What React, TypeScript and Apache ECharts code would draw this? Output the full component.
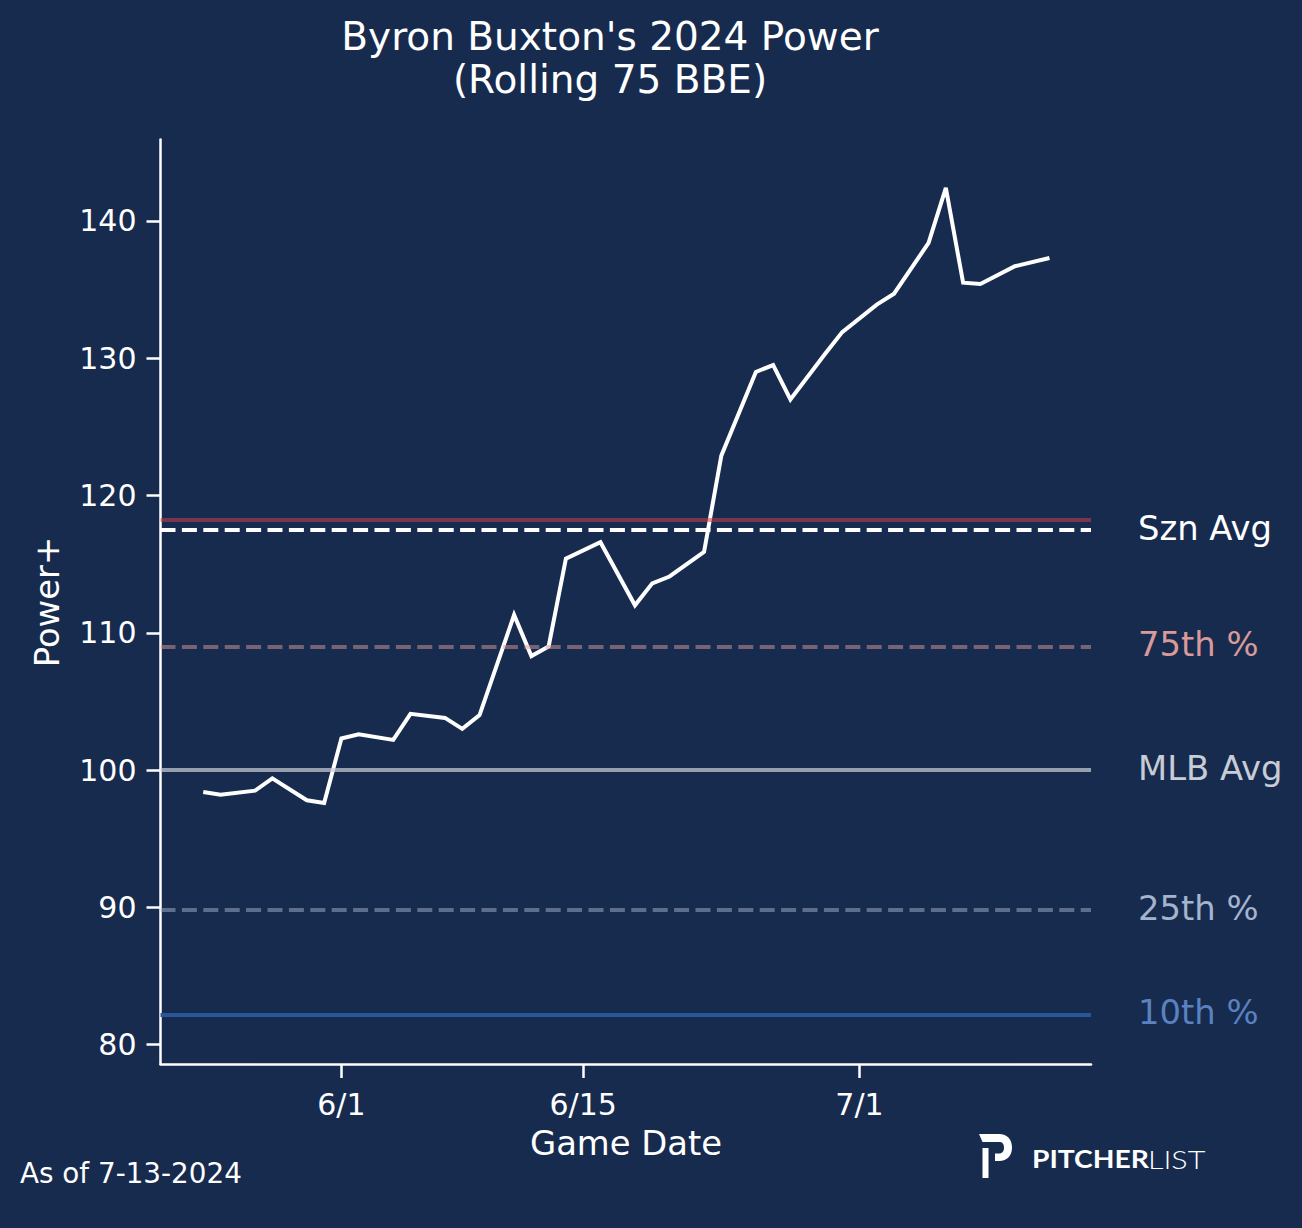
import React, { useEffect, useRef } from "react";
import * as echarts from "echarts";

// ---------- data ----------
const gameDates = [
  "2024-05-24", "2024-05-25", "2024-05-27", "2024-05-28", "2024-05-30", "2024-05-31",
  "2024-06-01", "2024-06-02", "2024-06-04", "2024-06-05", "2024-06-07", "2024-06-08",
  "2024-06-09", "2024-06-11", "2024-06-12", "2024-06-13", "2024-06-14", "2024-06-16",
  "2024-06-18", "2024-06-19", "2024-06-20", "2024-06-22", "2024-06-23", "2024-06-25",
  "2024-06-26", "2024-06-27", "2024-06-29", "2024-06-30", "2024-07-02", "2024-07-03",
  "2024-07-05", "2024-07-06", "2024-07-07", "2024-07-08", "2024-07-10", "2024-07-12",
];
const powerPlus = [
  98.4, 98.2, 98.5, 99.4, 97.8, 97.6,
  102.3, 102.6, 102.2, 104.1, 103.8, 103.0,
  104.0, 111.3, 108.3, 109.0, 115.4, 116.6,
  112.0, 113.6, 114.1, 115.9, 122.9, 129.0,
  129.5, 127.0, 130.3, 131.9, 133.9, 134.7,
  138.4, 142.4, 135.5, 135.4, 136.7, 137.3,
];
const xTickDates = ["2024-06-01", "2024-06-15", "2024-07-01"];
const yTickValues = [80, 90, 100, 110, 120, 130, 140];

const refNames = ["", "Szn Avg", "75th %", "MLB Avg", "25th %", "10th %"];
const refValues = [118.21, 117.48, 108.98, 100, 89.8, 82.16];
const refLineColors = [
  "rgba(205,62,72,0.55)",
  "#ffffff",
  "rgba(217,154,154,0.5)",
  "rgba(200,204,214,0.72)",
  "rgba(165,180,205,0.5)",
  "rgb(42,86,152)",
];
const refLabelColors = ["", "#ffffff", "#d99a9a", "#c8ccd6", "#a5b4cd", "#5a82c0"];
const refDashed = [false, true, true, false, true, false];

const titleText = "Byron Buxton's 2024 Power\n(Rolling 75 BBE)";
const asOfText = "As of 7-13-2024";

// ---------- helpers ----------
const BG = "#172B4F";
const FONT = "DejaVu Sans";
const BASE = Date.UTC(2024, 5, 1);
const DAY = 86400000;
const dayOf = (s: string) => (Date.parse(s + "T00:00:00Z") - BASE) / DAY;
const fmtDay = (d: number) => {
  const dt = new Date(BASE + Math.round(d) * DAY);
  return `${dt.getUTCMonth() + 1}/${dt.getUTCDate()}`;
};

const logoPath =
  "M0,0 L20,0 C28.5,0 33,5.5 33,13.5 C33,21.5 28.5,27 20,27 L16,27 L16,19.5 L20,19.5 " +
  "C23.5,19.5 25,17 25,13.5 C25,10 23.5,8 20,8 L3.5,8 Z M3.5,14 L9.5,14 L9.5,44 L3.5,44 Z";
echarts.graphic.registerShape("pllogo", echarts.graphic.extendPath(logoPath, {}) as any);

function buildOption(): any {
  const lineData = gameDates.map((d, i) => [dayOf(d), powerPlus[i]]);
  const tickDays = xTickDates.map(dayOf);

  const markData = refValues.map((v, i) => ({
    name: refNames[i],
    yAxis: v,
    lineStyle: {
      color: refLineColors[i],
      width: 4,
      type: refDashed[i] ? [15, 6.4] : "solid",
    },
    label: refNames[i]
      ? {
          show: true,
          position: "end",
          distance: 47,
          offset: [0, -2],
          formatter: "{b}",
          color: refLabelColors[i],
          fontSize: 33.8,
          fontFamily: FONT,
        }
      : { show: false },
  }));

  const txt = (text: string, x: number, y: number, extra: any = {}, style: any = {}) => ({
    type: "text",
    x,
    y,
    ...extra,
    style: {
      text,
      fill: "#ffffff",
      fontSize: 33.8,
      fontFamily: FONT,
      align: "center",
      verticalAlign: "middle",
      textAlign: "center",
      textVerticalAlign: "middle",
      ...style,
    },
  });

  return {
    animation: false,
    backgroundColor: BG,
    title: {
      text: titleText,
      left: 605,
      top: 10,
      textAlign: "center",
      textStyle: {
        color: "#ffffff",
        fontSize: 39,
        lineHeight: 43,
        fontWeight: "normal",
        fontFamily: FONT,
      },
    },
    grid: {
      left: 160.5,
      right: 211,
      top: 139.5,
      bottom: 164,
      containLabel: false,
      outerBoundsMode: "none",
    },
    xAxis: {
      type: "value",
      min: -10.475,
      max: 43.405,
      splitLine: { show: false },
      axisLine: { show: true, onZero: false, lineStyle: { color: "#ffffff", width: 2.5 } },
      axisTick: {
        show: true,
        inside: false,
        length: 14,
        customValues: tickDays,
        lineStyle: { color: "#ffffff", width: 2.5 },
      },
      axisLabel: {
        show: true,
        customValues: tickDays,
        margin: 25,
        color: "#ffffff",
        fontSize: 30,
        fontFamily: FONT,
        formatter: (v: number) => fmtDay(v),
      },
    },
    yAxis: {
      type: "value",
      min: 78.59,
      max: 145.93,
      splitLine: { show: false },
      axisLine: { show: true, onZero: false, lineStyle: { color: "#ffffff", width: 2.5 } },
      axisTick: {
        show: true,
        inside: false,
        length: 14,
        customValues: yTickValues,
        lineStyle: { color: "#ffffff", width: 2.5 },
      },
      axisLabel: {
        show: true,
        customValues: yTickValues,
        margin: 24,
        color: "#ffffff",
        fontSize: 30,
        fontFamily: FONT,
      },
    },
    series: [
      {
        name: "Power+",
        type: "line",
        data: lineData,
        showSymbol: false,
        symbol: "none",
        z: 2,
        lineStyle: { color: "#ffffff", width: 4, join: "miter" },
      },
      {
        name: "refs",
        type: "line",
        data: [],
        z: 3,
        markLine: {
          silent: true,
          symbol: ["none", "none"],
          animation: false,
          data: markData,
        },
      },
    ],
    graphic: [
      txt("Power+", 47.5, 602, { rotation: Math.PI / 2 }),
      txt("Game Date", 626, 1143),
      txt(asOfText, 20, 1173, {}, { fontSize: 27.8, align: "left", textAlign: "left" }),
      {
        type: "pllogo",
        x: 979,
        y: 1134,
        scaleX: 1,
        scaleY: 1,
        style: { fill: "#ffffff" },
      },
      txt(
        "PITCHER",
        1032,
        1159,
        { scaleX: 1.13 },
        { fontSize: 25, fontFamily: "Lato", fontWeight: "bold", align: "left", textAlign: "left" }
      ),
      txt(
        "LIST",
        1148,
        1159,
        { scaleX: 1.22 },
        { fontSize: 25, fontFamily: "Lato", fontWeight: 300, align: "left", textAlign: "left" }
      ),
    ],
  };
}

export default function App() {
  const ref = useRef<HTMLDivElement>(null);
  useEffect(() => {
    document.body.style.margin = "0";
    document.body.style.background = BG;
    if (!ref.current) return;
    const chart = echarts.init(ref.current, null, { renderer: "svg" });
    chart.setOption(buildOption());
    return () => chart.dispose();
  }, []);
  return <div ref={ref} style={{ width: 1302, height: 1228, background: BG }} />;
}
